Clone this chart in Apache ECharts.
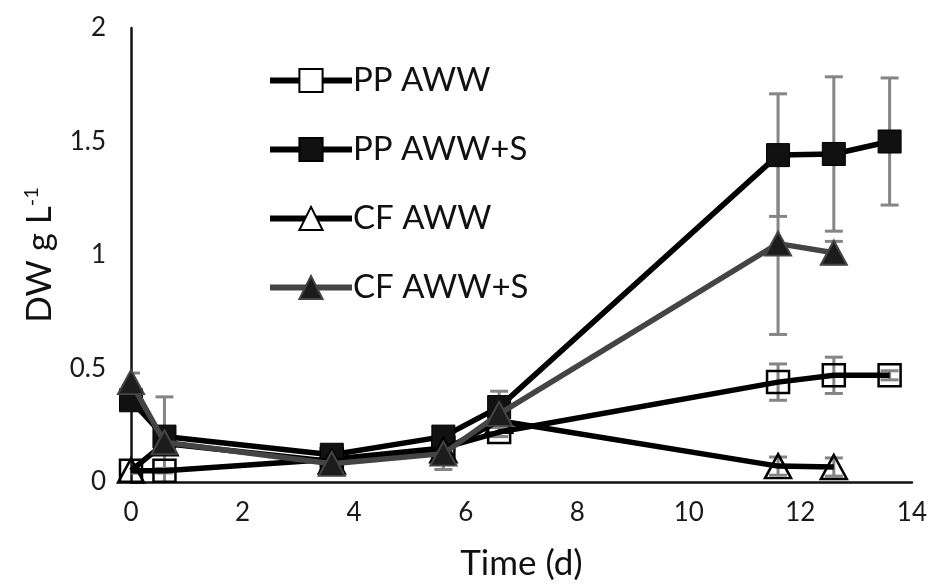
<!DOCTYPE html>
<html>
<head>
<meta charset="utf-8">
<script src="https://cdn.jsdelivr.net/npm/echarts@6/dist/echarts.min.js"></script>
<style>
html,body{margin:0;padding:0;background:#fff;}
#c{width:930px;height:586px;}
</style>
</head>
<body>
<div id="c"></div>
<script>
// ---- data ----
const seriesNames = ['PP AWW', 'PP AWW+S', 'CF AWW', 'CF AWW+S'];
const ppX = [0, 0.6, 3.6, 5.6, 6.6, 11.6, 12.6, 13.6];
const cfX = [0, 0.6, 3.6, 5.6, 6.6, 11.6, 12.6];
const ppAww = [0.05, 0.05, 0.10, 0.15, 0.22, 0.44, 0.47, 0.47];
const ppAwwErr = [0.01, 0.01, 0.01, 0.02, 0.02, 0.08, 0.08, 0.02];
const ppAwwS = [0.36, 0.20, 0.12, 0.20, 0.33, 1.44, 1.445, 1.50];
const ppAwwSErr = [0.02, 0.02, 0.02, 0.02, 0.03, 0.27, 0.34, 0.28];
const cfAww = [0.05, 0.17, 0.09, 0.14, 0.27, 0.07, 0.066];
const cfAwwErr = [0.01, 0.01, 0.01, 0.01, 0.02, 0.04, 0.04];
const cfAwwS = [0.44, 0.175, 0.08, 0.125, 0.30, 1.05, 1.01];
const cfAwwSErr = [0.04, 0.20, 0.02, 0.07, 0.10, 0.40, 0.05];
const xTicks = {min: 0, max: 14, interval: 2};
const yTicks = {min: 0, max: 2, interval: 0.5};

const FONT = 'Lato';
const pairs = (xs, ys) => xs.map((x, i) => [x, ys[i]]);
function errSeries(xs, ys, es) {
  return {
    type: 'custom',
    z: 1,
    silent: true,
    clip: true,
    data: xs.map((x, i) => [x, ys[i] - es[i], ys[i] + es[i]]),
    renderItem: function (params, api) {
      const lo = api.coord([api.value(0), api.value(1)]);
      const hi = api.coord([api.value(0), api.value(2)]);
      const w = 9;
      const st = {stroke: '#858585', lineWidth: 3};
      return {
        type: 'group',
        children: [
          {type: 'line', shape: {x1: lo[0], y1: lo[1], x2: hi[0], y2: hi[1]}, style: st},
          {type: 'line', shape: {x1: hi[0] - w, y1: hi[1], x2: hi[0] + w, y2: hi[1]}, style: st},
          {type: 'line', shape: {x1: lo[0] - w, y1: lo[1], x2: lo[0] + w, y2: lo[1]}, style: st}
        ]
      };
    }
  };
}

const chart = echarts.init(document.getElementById('c'), null, {renderer: 'canvas'});
chart.setOption({
  animation: false,
  backgroundColor: '#fff',
  grid: {left: 131, right: 18, top: 28, bottom: 103, containLabel: false},
  legend: {
    orient: 'vertical',
    left: 262,
    top: 59,
    itemWidth: 82,
    itemHeight: 29,
    itemGap: 36,
    textStyle: {fontFamily: FONT, fontSize: 33, color: '#111', padding: [0, 0, 0, -4]},
    data: [
      {name: seriesNames[0], itemStyle: {color: '#fff'}, lineStyle: {width: 6}},
      {name: seriesNames[1], lineStyle: {width: 6}},
      {name: seriesNames[2], itemStyle: {color: '#fff'}, lineStyle: {width: 6}},
      {name: seriesNames[3], lineStyle: {width: 6}}
    ]
  },
  xAxis: {
    type: 'value',
    min: xTicks.min, max: xTicks.max, interval: xTicks.interval,
    name: 'Time (d)',
    nameLocation: 'middle',
    nameGap: 64,
    nameTextStyle: {fontFamily: FONT, fontSize: 35, color: '#111'},
    axisLine: {lineStyle: {color: '#111', width: 2.5}},
    axisTick: {show: false},
    splitLine: {show: false},
    axisLabel: {fontFamily: FONT, fontSize: 26, color: '#1a1a1a', margin: 18}
  },
  yAxis: {
    type: 'value',
    min: yTicks.min, max: yTicks.max, interval: yTicks.interval,
    name: 'DW g L{sup|-1}',
    nameLocation: 'middle',
    nameGap: 74,
    nameTextStyle: {
      fontFamily: FONT, fontSize: 35, color: '#111',
      rich: {sup: {fontFamily: FONT, fontSize: 20, color: '#111', verticalAlign: 'top', lineHeight: 35, padding: [0, 0, 14, 0]}}
    },
    axisLine: {show: true, lineStyle: {color: '#111', width: 2.5}},
    axisTick: {show: false},
    splitLine: {show: false},
    axisLabel: {fontFamily: FONT, fontSize: 26, color: '#1a1a1a', margin: 25}
  },
  series: [
    errSeries(ppX, ppAww, ppAwwErr),
    errSeries(ppX, ppAwwS, ppAwwSErr),
    errSeries(cfX, cfAww, cfAwwErr),
    errSeries(cfX, cfAwwS, cfAwwSErr),
    {
      name: seriesNames[0], type: 'line', z: 2, data: pairs(ppX, ppAww),
      symbol: 'rect', symbolSize: 22,
      lineStyle: {color: '#000', width: 5.5},
      itemStyle: {color: 'rgba(255,255,255,0)', borderColor: '#000', borderWidth: 2.5}
    },
    {
      name: seriesNames[1], type: 'line', z: 3, data: pairs(ppX, ppAwwS),
      symbol: 'rect', symbolSize: 23,
      lineStyle: {color: '#000', width: 5.5},
      itemStyle: {color: '#111', borderColor: '#000', borderWidth: 1}
    },
    {
      name: seriesNames[2], type: 'line', z: 4, data: pairs(cfX, cfAww),
      symbol: 'triangle', symbolSize: [26, 24],
      lineStyle: {color: '#000', width: 5.5},
      itemStyle: {color: 'rgba(255,255,255,0)', borderColor: '#000', borderWidth: 2.5}
    },
    {
      name: seriesNames[3], type: 'line', z: 5, data: pairs(cfX, cfAwwS),
      symbol: 'triangle', symbolSize: [26, 24],
      lineStyle: {color: '#444', width: 5.5},
      itemStyle: {color: '#1c1c1c', borderColor: '#444', borderWidth: 2}
    }
  ]
});
</script>
</body>
</html>
